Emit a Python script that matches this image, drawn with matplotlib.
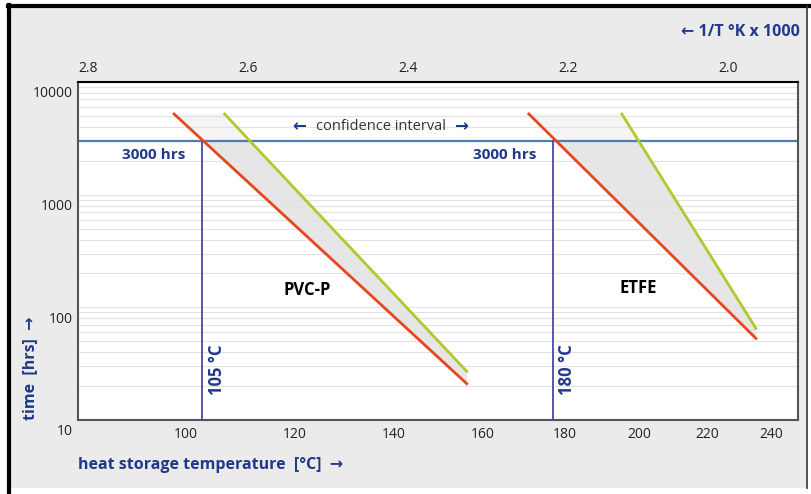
import numpy as np
import matplotlib
matplotlib.use("Agg")
import matplotlib.pyplot as plt
from matplotlib.patches import Rectangle
from matplotlib.lines import Line2D
from matplotlib.ticker import LogLocator, NullFormatter

plt.rcParams['font.family'] = ['Open Sans', 'DejaVu Sans']

# data: end points of the straight Arrhenius lines (temperature degC, time hrs)
pvc_low_temp = [100, 159]
pvc_low_hrs = [5200, 21]
pvc_high_temp = [109, 159]
pvc_high_hrs = [5200, 27]

etfe_low_temp = [174, 239]
etfe_low_hrs = [5200, 53]
etfe_high_temp = [198.5, 239]
etfe_high_hrs = [5200, 65]

limit_hrs = 3000
pvc_limit_temp = 105
etfe_limit_temp = 180

temp_ticks = [100, 120, 140, 160, 180, 200, 220, 240]
inv_ticks = [2.8, 2.6, 2.4, 2.2, 2.0]
time_ticks = [10, 100, 1000, 10000]

BLUE = '#22398a'
RED = '#e8461e'
GREEN = '#b3c82c'


def inv(t):
    return 1000.0 / (np.asarray(t, dtype=float) + 273.15)


def at_hours(temps, hrs, h):
    x = inv(temps)
    ly = np.log10(hrs)
    return np.interp(np.log10(h), ly[::-1], x[::-1])


fig = plt.figure(figsize=(8.12, 4.94), dpi=100)
fig.patch.set_facecolor('white')

W, H = 812.0, 494.0


def fx(px):
    return px / W


def fy(py):
    return 1 - py / H


# grey panel and black frame
fig.patches.append(Rectangle((fx(10), fy(488)), fx(796), 480 / H, transform=fig.transFigure,
                             facecolor='#ebebeb', edgecolor='none', zorder=-5))
fig.lines.append(Line2D([fx(9.5), fx(9.5)], [fy(5), fy(494)], transform=fig.transFigure, color='black', lw=3))
fig.lines.append(Line2D([fx(8), fx(812)], [fy(6), fy(6)], transform=fig.transFigure, color='black', lw=3))
fig.lines.append(Line2D([fx(807.5), fx(807.5)], [fy(6), fy(488)], transform=fig.transFigure, color='#333333', lw=1.2))

ax = fig.add_axes([78 / W, (494 - 420) / H, 720 / W, 338 / H])
ax.set_facecolor('white')
ax.set_yscale('log')
ax.set_xlim(2.8, 1.9)
ax.set_ylim(10, 10000)

ax.yaxis.set_minor_locator(LogLocator(subs=np.arange(2, 10)))
ax.yaxis.set_minor_formatter(NullFormatter())
ax.grid(True, which='both', axis='y', color='#e2e2e2', lw=0.8)
ax.grid(False, axis='x')
for s in ['left', 'bottom', 'right']:
    ax.spines[s].set_color('#555555')
    ax.spines[s].set_linewidth(1.5)
ax.spines['top'].set_color('black')
ax.spines['top'].set_linewidth(1.5)

# confidence areas
for lt, lh, ht, hh in [(pvc_low_temp, pvc_low_hrs, pvc_high_temp, pvc_high_hrs),
                       (etfe_low_temp, etfe_low_hrs, etfe_high_temp, etfe_high_hrs)]:
    xl = at_hours(lt, lh, limit_hrs)
    xh = at_hours(ht, hh, limit_hrs)
    ax.fill([xl, xh, inv(ht[1]), inv(lt[1])], [limit_hrs, limit_hrs, hh[1], lh[1]],
            color='#e6e6e6', lw=0, zorder=1)
    ax.fill([inv(lt[0]), inv(ht[0]), xh, xl], [lh[0], hh[0], limit_hrs, limit_hrs],
            color='#f4f4f4', lw=0, zorder=1)
    ax.plot(inv(ht), hh, color=GREEN, lw=2, zorder=3)
    ax.plot(inv(lt), lh, color=RED, lw=2, zorder=4)

# limits
ax.axhline(limit_hrs, color='#4f7db3', lw=1.6, zorder=2)
for t in [pvc_limit_temp, etfe_limit_temp]:
    ax.plot([inv(t), inv(t)], [10, limit_hrs], color='#4848a8', lw=1.3, zorder=2)
    ax.annotate('3000 hrs', xy=(inv(t), limit_hrs), xytext=(-12, -10), textcoords='offset points',
                ha='right', va='center', color=BLUE, fontsize=11, fontweight='bold')
    ax.annotate('%d °C' % t, xy=(inv(t), 10), xytext=(4, 18), textcoords='offset points',
                ha='left', va='bottom', rotation=90, color=BLUE, fontsize=12, fontweight='bold')

ax.annotate('PVC-P', xy=((307 - 78) / 720, (420 - 290) / 338), xycoords='axes fraction',
            ha='center', va='center', fontsize=12, fontweight='bold', color='black')
ax.annotate('ETFE', xy=((638 - 78) / 720, (420 - 288) / 338), xycoords='axes fraction',
            ha='center', va='center', fontsize=12, fontweight='bold', color='black')

# confidence interval label
ax.annotate('confidence interval', xy=((381 - 78) / 720, (420 - 126) / 338), xycoords='axes fraction',
            ha='center', va='center', fontsize=10.5, color='#333333')
ax.annotate('←', xy=((299 - 78) / 720, (420 - 126) / 338), xycoords='axes fraction',
            ha='center', va='center', fontsize=12, fontweight='bold', color=BLUE)
ax.annotate('→', xy=((461 - 78) / 720, (420 - 126) / 338), xycoords='axes fraction',
            ha='center', va='center', fontsize=12, fontweight='bold', color=BLUE)

# bottom axis: temperature at 1/T positions
ax.set_xticks(inv(temp_ticks), [str(t) for t in temp_ticks], ha='left')
ax.tick_params(axis='x', length=0, pad=5, labelsize=10, labelcolor='#222222')

# y axis labels sit a bit below the grid lines
ax.set_yticks(time_ticks, [''] * len(time_ticks))
ax.tick_params(axis='y', which='both', length=0)
for v in time_ticks:
    ax.annotate(str(v), xy=(0, v), xycoords=('axes fraction', 'data'), xytext=(-4, -8.5),
                textcoords='offset points', ha='right', va='center', fontsize=10, color='#222222',
                annotation_clip=False)

# top axis: 1/T x 1000
top = ax.twiny()
top.set_xlim(ax.get_xlim())
top.set_xticks(inv_ticks, ['%.1f' % v for v in inv_ticks], ha='left')
top.tick_params(axis='x', length=0, pad=4, labelsize=10, labelcolor='#222222')
for s in top.spines.values():
    s.set_visible(False)

fig.text(fx(800), fy(32), '← 1/T °K x 1000', ha='right', va='center', fontsize=11.5,
         fontweight='bold', color=BLUE)
fig.text(fx(78), fy(465), 'heat storage temperature  [°C]  →', ha='left', va='center', fontsize=11.5,
         fontweight='bold', color=BLUE)
fig.text(fx(30), fy(368), 'time  [hrs]  →', ha='center', va='center', rotation=90, fontsize=11.5,
         fontweight='bold', color=BLUE)

fig.savefig('out.png', dpi=100, facecolor=fig.get_facecolor())
